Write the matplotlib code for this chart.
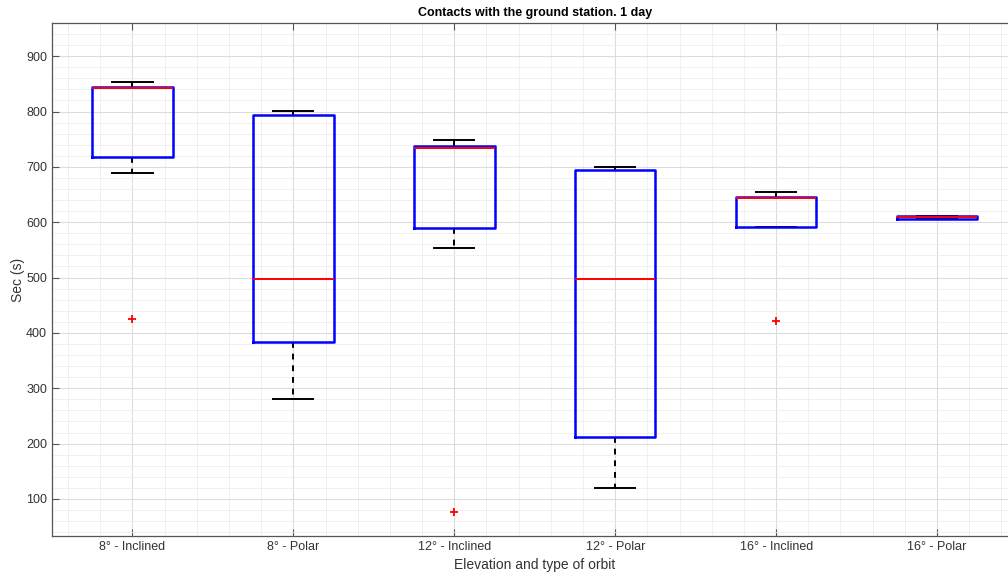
import numpy as np
import matplotlib.pyplot as plt

plt.rcParams['font.family'] = ['Liberation Sans', 'DejaVu Sans']

# orbit cases and box statistics (seconds of contact per day)
labels = ["8° - Inclined", "8° - Polar", "12° - Inclined", "12° - Polar", "16° - Inclined", "16° - Polar"]
whislo = [689, 280, 554, 119, 591, 606]
q1 = [718, 383, 589, 212, 591, 606]
med = [843, 497, 734, 498, 643, 609]
q3 = [845, 793, 737, 695, 645, 611]
whishi = [853, 801, 748, 699, 655, 611]
fliers = [[425], [], [76], [], [421], []]

stats = []
for i in range(len(labels)):
    stats.append(dict(label=labels[i], whislo=whislo[i], q1=q1[i], med=med[i],
                      q3=q3[i], whishi=whishi[i], fliers=fliers[i]))

fig = plt.figure(figsize=(10.08, 5.79), dpi=100)
ax = fig.add_axes([52/1008, 43/579, 965.5/1008, 513/579])

ax.bxp(stats, widths=0.5, capwidths=0.25, patch_artist=False,
       boxprops=dict(color='#0000ff', linewidth=1.8, zorder=4),
       medianprops=dict(color='#ff0000', linewidth=1.4, zorder=5),
       whiskerprops=dict(color='black', linewidth=1.4, linestyle=(0, (3, 3)), zorder=2),
       capprops=dict(color='black', linewidth=1.4, zorder=2),
       flierprops=dict(marker='+', markeredgecolor='#ff0000', markersize=6, markeredgewidth=1.3))

ax.set_xlim(0.5, 6.5)
ax.set_ylim(33, 960)
ax.set_yticks(np.arange(100, 901, 100))
ax.set_xticks(np.arange(1, 7), labels)
ax.set_xticks(np.arange(0.6, 6.5, 0.2), minor=True)
ax.set_yticks(np.arange(40, 960, 20), minor=True)

ax.grid(which='major', color='#dcdcdc', linewidth=0.8)
ax.grid(which='minor', color='#eeeeee', linewidth=0.6)
ax.set_axisbelow(True)

ax.tick_params(which='major', direction='in', length=5, color='#555555', labelcolor='#333333',
               labelsize=9, top=True, right=True)
ax.tick_params(which='minor', length=0)
for s in ax.spines.values():
    s.set_color('#555555')
    s.set_linewidth(0.9)

ax.set_title("Contacts with the ground station. 1 day", fontsize=9, fontweight='bold', pad=5)
ax.set_xlabel("Elevation and type of orbit", fontsize=10, color='#333333', labelpad=4)
ax.set_ylabel("Sec (s)", fontsize=10, color='#333333', labelpad=1)

fig.savefig("out.png", dpi=100)
